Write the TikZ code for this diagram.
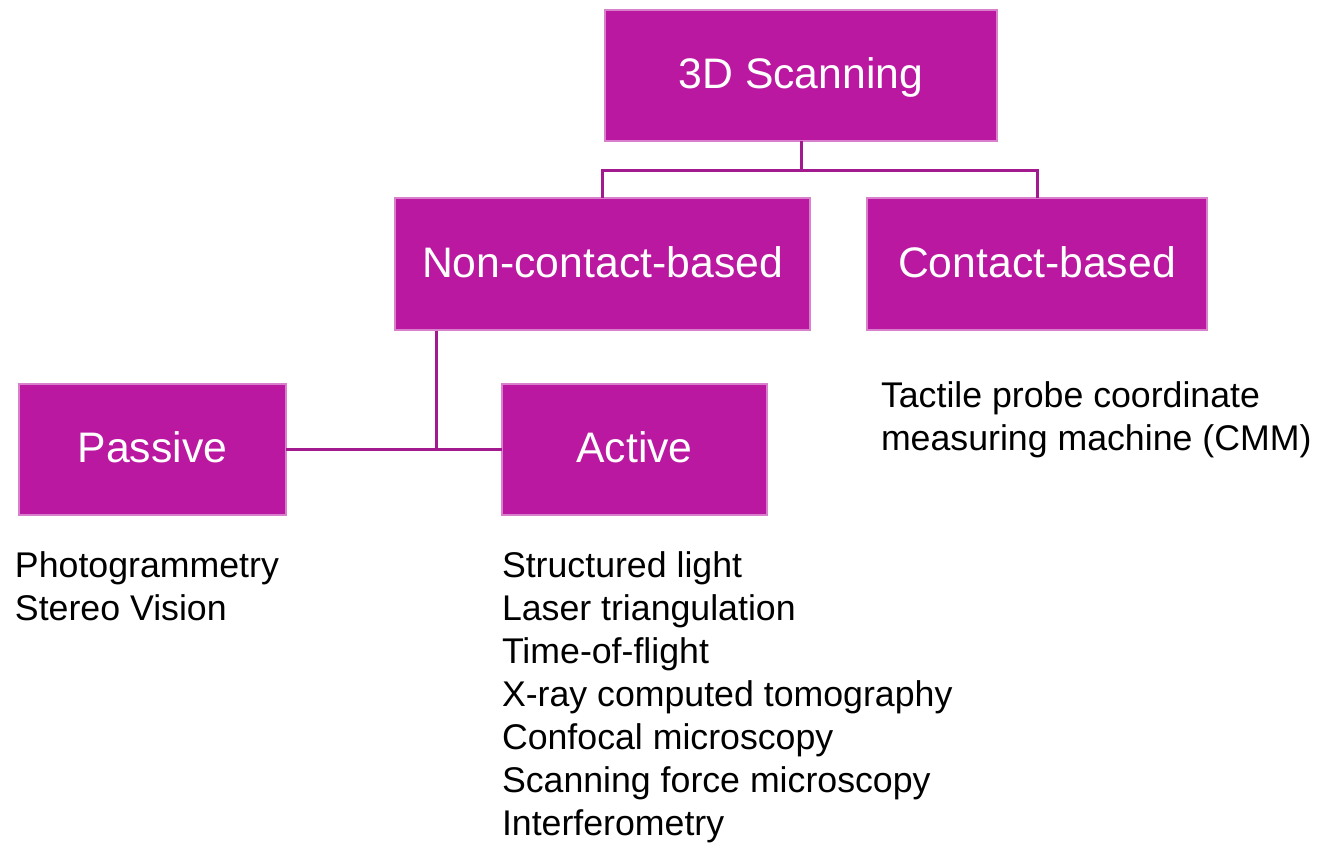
\documentclass[tikz,border=0pt]{standalone}
\usepackage{fontspec}
\setmainfont{Liberation Sans}
\definecolor{boxfill}{RGB}{186,24,160}
\definecolor{boxedge}{RGB}{216,128,204}
\definecolor{linkcol}{RGB}{162,26,142}
\tikzset{
  catbox/.style={draw=boxedge, line width=2.5pt, fill=boxfill, text=white,
    font=\fontsize{42.7}{50}\selectfont, text height=30pt, text depth=4pt,
    inner sep=0pt, outer sep=0pt},
  conn/.style={draw=linkcol, line width=3pt},
  item/.style={anchor=base west, inner sep=0pt, outer sep=0pt, text=black,
    font=\fontsize{35.7}{43}\selectfont}
}
\begin{document}
\begin{tikzpicture}[x=1pt, y=-1pt]
\useasboundingbox (0,0) rectangle (1318,843);

% category boxes
\node[catbox, minimum width=392pt, minimum height=131pt] (scan) at (801,75.5) {3D Scanning};
\node[catbox, minimum width=415pt, minimum height=132pt] (nc) at (602.5,264) {Non-contact-based};
\node[catbox, minimum width=340pt, minimum height=132pt] (cb) at (1037,264) {Contact-based};
\node[catbox, minimum width=267pt, minimum height=131pt] (pas) at (152.5,449.5) {Passive};
\node[catbox, minimum width=265pt, minimum height=131pt] (act) at (634.5,449.5) {Active};

% tree connectors
\coordinate (bus) at (801,170);
\coordinate (ncdrop) at (436,331);
\coordinate (join) at (436,450);
\draw[conn] (scan.south) -- (bus);
\draw[conn] (bus) -| (nc.north);
\draw[conn] (bus) -| (cb.north);
\draw[conn] (ncdrop) -- (join);
\draw[conn] (pas.east) -- (act.west);

% method lists
\node[item] (p1) at (15,577) {Photogrammetry};
\node[item] (p2) at (15,620) {Stereo Vision};

\foreach \t [count=\i from 0] in {Structured light, Laser triangulation,
    Time-of-flight, X-ray computed tomography, Confocal microscopy,
    Scanning force microscopy, Interferometry}
  \node[item] (a\i) at (502,577+43*\i) {\t};

\node[item] (c1) at (881,407) {Tactile probe coordinate};
\node[item] (c2) at (881,450) {measuring machine (CMM)};
\end{tikzpicture}
\end{document}
